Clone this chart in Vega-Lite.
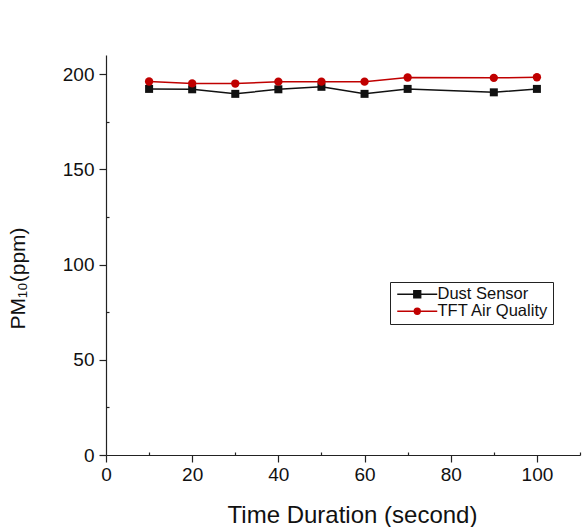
{
  "$schema": "https://vega.github.io/schema/vega-lite/v6.json",
  "autosize": {"type": "none"},
  "padding": {"left": 106, "top": 55, "right": 2, "bottom": 72},
  "width": 474,
  "height": 400,
  "background": "white",
  "config": {
    "font": "Liberation Sans",
    "view": {"stroke": null},
    "axis": {"grid": false, "domainColor": "#222", "tickColor": "#222", "labelColor": "#111", "titleColor": "#111", "labelFont": "Liberation Sans", "titleFont": "Liberation Sans", "titleFontWeight": "normal", "domainWidth": 1.2, "tickWidth": 1.2, "labelFlush": false}
  },
  "data": {
    "values": [
      {"t": 10, "v": 192.2, "s": "Dust Sensor"},
      {"t": 20, "v": 192.0, "s": "Dust Sensor"},
      {"t": 30, "v": 189.6, "s": "Dust Sensor"},
      {"t": 40, "v": 192.0, "s": "Dust Sensor"},
      {"t": 50, "v": 193.3, "s": "Dust Sensor"},
      {"t": 60, "v": 189.6, "s": "Dust Sensor"},
      {"t": 70, "v": 192.2, "s": "Dust Sensor"},
      {"t": 90, "v": 190.4, "s": "Dust Sensor"},
      {"t": 100, "v": 192.2, "s": "Dust Sensor"},
      {"t": 10, "v": 196.1, "s": "TFT Air Quality"},
      {"t": 20, "v": 195.1, "s": "TFT Air Quality"},
      {"t": 30, "v": 195.0, "s": "TFT Air Quality"},
      {"t": 40, "v": 196.0, "s": "TFT Air Quality"},
      {"t": 50, "v": 196.0, "s": "TFT Air Quality"},
      {"t": 60, "v": 196.0, "s": "TFT Air Quality"},
      {"t": 70, "v": 198.2, "s": "TFT Air Quality"},
      {"t": 90, "v": 198.0, "s": "TFT Air Quality"},
      {"t": 100, "v": 198.3, "s": "TFT Air Quality"}
    ]
  },
  "encoding": {
    "x": {
      "field": "t", "type": "quantitative",
      "scale": {"domain": [0, 110], "nice": false, "zero": false},
      "axis": {
        "title": "Time Duration (second)",
        "values": [0, 10, 20, 30, 40, 50, 60, 70, 80, 90, 100, 110],
        "labelExpr": "datum.value % 20 === 0 && datum.value <= 100 ? datum.label : ''",
        "tickSize": {"condition": {"test": "datum.value % 20 === 0", "value": 7}, "value": -3},
        "labelPadding": 3,
        "labelFontSize": 19,
        "titleFontSize": 24,
        "titleBaseline": "alphabetic",
        "titleY": 67,
        "titleX": 246
      }
    },
    "y": {
      "field": "v", "type": "quantitative",
      "scale": {"domain": [0, 210], "nice": false},
      "axis": {
        "title": "PM₁₀(ppm)",
        "values": [0, 25, 50, 75, 100, 125, 150, 175, 200],
        "labelExpr": "datum.value % 50 === 0 ? datum.label : ''",
        "tickSize": {"condition": {"test": "datum.value % 50 === 0", "value": 7}, "value": -3},
        "labelPadding": 5,
        "labelFontSize": 19,
        "titleFontSize": 21,
        "titleBaseline": "middle",
        "titleX": -88,
        "titleY": 223
      }
    }
  },
  "layer": [
    {
      "mark": {"type": "line", "strokeWidth": 1.5},
      "encoding": {
        "color": {
          "field": "s", "type": "nominal",
          "scale": {"domain": ["Dust Sensor", "TFT Air Quality"], "range": ["#111111", "#c00000"]},
          "legend": {
            "title": null,
            "orient": "none",
            "legendX": 284,
            "legendY": 227,
            "strokeColor": "#222",
            "padding": 4,
            "rowPadding": 0,
            "labelFontSize": 16.5,
            "labelFont": "Liberation Sans",
            "labelColor": "#111",
            "symbolSize": 100,
            "symbolStrokeWidth": 1.3,
            "symbolType": {"expr": "datum.value == 'Dust Sensor' ? 'M-1,0H7M2.3,-0.7H3.7V0.7H2.3Z' : 'M-1,0H7M2.4,0A0.6,0.6 0 1,0 3.6,0A0.6,0.6 0 1,0 2.4,0Z'"},
            "symbolFillColor": {"expr": "datum.value == 'Dust Sensor' ? '#111111' : '#c00000'"},
            "labelOffset": 27
          }
        }
      }
    },
    {
      "transform": [{"filter": "datum.s == 'Dust Sensor'"}],
      "mark": {"type": "point", "filled": true, "opacity": 1, "size": 64, "shape": "square"},
      "encoding": {"color": {"field": "s", "type": "nominal", "legend": null}}
    },
    {
      "transform": [{"filter": "datum.s == 'TFT Air Quality'"}],
      "mark": {"type": "point", "filled": true, "opacity": 1, "size": 70, "shape": "circle"},
      "encoding": {"color": {"field": "s", "type": "nominal", "legend": null}}
    }
  ]
}
